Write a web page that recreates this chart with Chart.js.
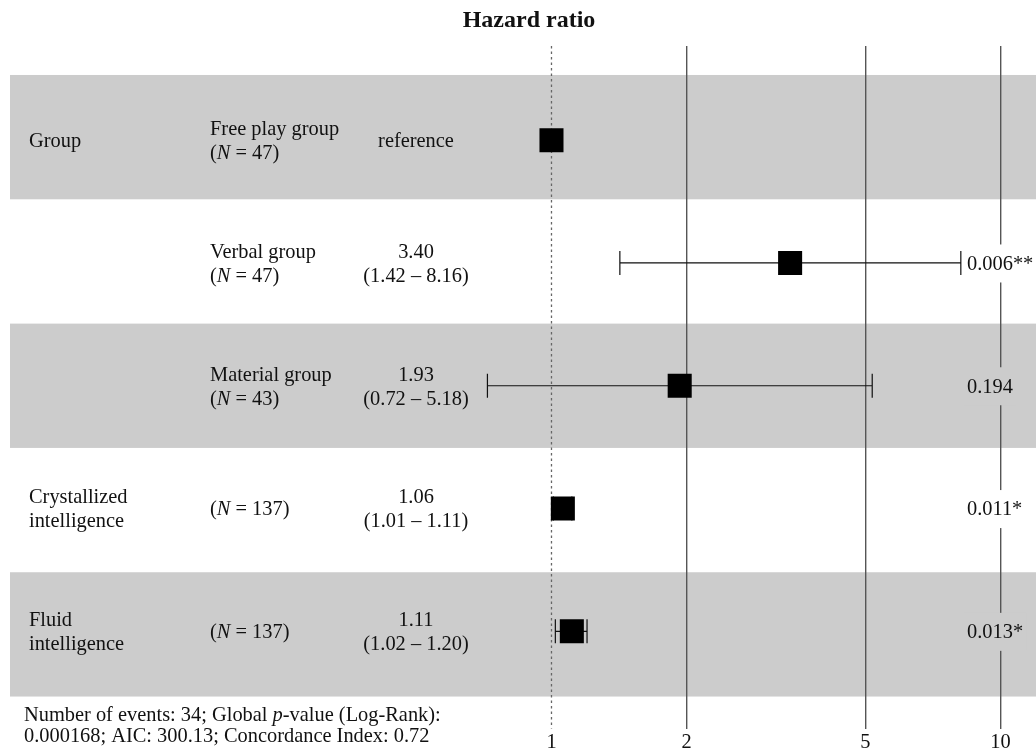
<!DOCTYPE html>
<html>
<head>
<meta charset="utf-8">
<title>Hazard ratio</title>
<script src="https://cdn.jsdelivr.net/npm/chart.js@4.4.1/dist/chart.umd.min.js"></script>
<style>
  body { margin: 0; background: #fff; }
  #wrap { width: 1036px; height: 751px; }
</style>
</head>
<body>
<div id="wrap"><canvas id="hrChart"></canvas></div>
<script>
// forest plot rows, top to bottom
const varNames = ['Group', '', '', 'Crystallized\nintelligence', 'Fluid\nintelligence'];
const levelNames = ['Free play group', 'Verbal group', 'Material group', '', ''];
const groupN = [47, 47, 43, 137, 137];
const hazard = [1, 3.40, 1.93, 1.06, 1.11];
const ciLow = [null, 1.42, 0.72, 1.01, 1.02];
const ciHigh = [null, 8.16, 5.18, 1.11, 1.20];
const pValues = ['', '0.006**', '0.194', '0.011*', '0.013*'];
const xTicks = [1, 2, 5, 10];

const serif = "'Liberation Serif', 'Times New Roman', serif";
const textColor = '#111';
const bandColor = '#cccccc';
const fs = 20.4;

// y value of each row (first row on top)
const rowPos = hazard.map((_, i) => hazard.length - i);
const bandTop = 5.531, bandStep = 1.0124;

function estText(i) {
  if (ciLow[i] === null) return ['reference'];
  return [hazard[i].toFixed(2), '(' + ciLow[i].toFixed(2) + ' \u2013 ' + ciHigh[i].toFixed(2) + ')'];
}

// draws runs of text where some pieces are italic
function drawRuns(ctx, runs, x, y, size, align) {
  let total = 0;
  runs.forEach(r => {
    ctx.font = (r.it ? 'italic ' : '') + size + 'px ' + serif;
    r.w = ctx.measureText(r.t).width;
    total += r.w;
  });
  let cx = align === 'center' ? x - total / 2 : x;
  ctx.textAlign = 'left';
  runs.forEach(r => {
    ctx.font = (r.it ? 'italic ' : '') + size + 'px ' + serif;
    ctx.fillText(r.t, cx, y);
    cx += r.w;
  });
}

const forestPlugin = {
  id: 'forest',
  beforeDraw(chart) {
    const { ctx, chartArea: a, scales: { y } } = chart;
    ctx.save();
    for (let i = 0; i < rowPos.length; i += 2) {
      const t = y.getPixelForValue(bandTop - i * bandStep);
      const b = y.getPixelForValue(bandTop - (i + 1) * bandStep);
      ctx.fillStyle = bandColor;
      ctx.fillRect(a.left, t, a.right - a.left, b - t);
    }
    ctx.restore();
  },
  beforeDatasetsDraw(chart) {
    const { ctx, chartArea: a, scales: { x, y } } = chart;
    ctx.save();
    // reference line at HR = 1
    const x1 = x.getPixelForValue(1);
    ctx.strokeStyle = '#666';
    ctx.lineWidth = 1.3;
    ctx.setLineDash([2.5, 3]);
    ctx.beginPath();
    ctx.moveTo(x1, a.top);
    ctx.lineTo(x1, a.bottom);
    ctx.stroke();
    ctx.setLineDash([]);
    // confidence intervals
    ctx.strokeStyle = '#111';
    ctx.lineWidth = 1.2;
    rowPos.forEach((r, i) => {
      if (ciLow[i] === null) return;
      const yy = y.getPixelForValue(r);
      const xl = x.getPixelForValue(ciLow[i]);
      const xh = x.getPixelForValue(ciHigh[i]);
      ctx.beginPath();
      ctx.moveTo(xl, yy); ctx.lineTo(xh, yy);
      ctx.moveTo(xl, yy - 12); ctx.lineTo(xl, yy + 12);
      ctx.moveTo(xh, yy - 12); ctx.lineTo(xh, yy + 12);
      ctx.stroke();
    });
    ctx.restore();
  },
  afterDraw(chart) {
    const { ctx, scales: { y } } = chart;
    ctx.save();
    ctx.fillStyle = textColor;
    ctx.textBaseline = 'middle';

    ctx.font = 'bold 24px ' + serif;
    ctx.textAlign = 'center';
    ctx.fillText('Hazard ratio', 529, 21);

    rowPos.forEach((r, i) => {
      const yc = y.getPixelForValue(r) + 1.5;
      const lineH = 24;
      // variable name
      const vn = varNames[i] ? varNames[i].split('\n') : [];
      vn.forEach((s, k) => {
        ctx.font = fs + 'px ' + serif;
        ctx.textAlign = 'left';
        ctx.fillText(s, 29, yc + (k - (vn.length - 1) / 2) * lineH);
      });
      // level and N
      const nRuns = [{ t: '(' }, { t: 'N', it: true }, { t: ' = ' + groupN[i] + ')' }];
      if (levelNames[i]) {
        ctx.font = fs + 'px ' + serif;
        ctx.textAlign = 'left';
        ctx.fillText(levelNames[i], 210, yc - lineH / 2);
        drawRuns(ctx, nRuns, 210, yc + lineH / 2, fs, 'left');
      } else {
        drawRuns(ctx, nRuns, 210, yc, fs, 'left');
      }
      // estimate and interval
      const est = estText(i);
      ctx.font = fs + 'px ' + serif;
      ctx.textAlign = 'center';
      est.forEach((s, k) => {
        ctx.fillText(s, 416, yc + (k - (est.length - 1) / 2) * lineH);
      });
      // p-value on a box of the row colour
      if (pValues[i]) {
        const w = ctx.measureText(pValues[i]).width;
        ctx.fillStyle = i % 2 === 0 ? bandColor : '#fff';
        ctx.fillRect(964, yc - 20, w + 6, 38);
        ctx.fillStyle = textColor;
        ctx.textAlign = 'left';
        ctx.fillText(pValues[i], 967, yc);
      }
    });

    // model summary
    drawRuns(ctx, [{ t: 'Number of events: 34; Global ' }, { t: 'p', it: true }, { t: '-value (Log-Rank):' }], 24, 716, fs, 'left');
    drawRuns(ctx, [{ t: '0.000168; AIC: 300.13; Concordance Index: 0.72' }], 24, 737, fs, 'left');
    ctx.restore();
  }
};

new Chart(document.getElementById('hrChart'), {
  type: 'scatter',
  data: {
    datasets: [{
      data: hazard.map((h, i) => ({ x: h, y: rowPos[i] })),
      pointStyle: 'rect',
      pointRadius: 17,
      pointHoverRadius: 17,
      backgroundColor: '#000',
      borderColor: '#000',
      borderWidth: 0
    }]
  },
  options: {
    responsive: true,
    maintainAspectRatio: false,
    animation: false,
    layout: { autoPadding: false, padding: { top: 46, left: 10, right: 0, bottom: -6 } },
    plugins: { legend: { display: false }, tooltip: { enabled: false }, title: { display: false } },
    scales: {
      x: {
        type: 'logarithmic',
        min: 0.06223,
        max: 11.998,
        bounds: 'data',
        afterBuildTicks: s => { s.ticks = xTicks.map(v => ({ value: v })); },
        ticks: {
          autoSkip: false,
          maxRotation: 0,
          padding: 4,
          color: textColor,
          font: { family: serif, size: fs, lineHeight: 1 },
          callback: v => String(v)
        },
        grid: {
          drawTicks: false,
          lineWidth: 1.4,
          color: c => (c.tick && c.tick.value === 1) ? 'rgba(0,0,0,0)' : '#555'
        },
        border: { display: false }
      },
      y: { type: 'linear', min: 0.208, max: 5.767, display: false }
    }
  },
  plugins: [forestPlugin]
});
</script>
</body>
</html>
